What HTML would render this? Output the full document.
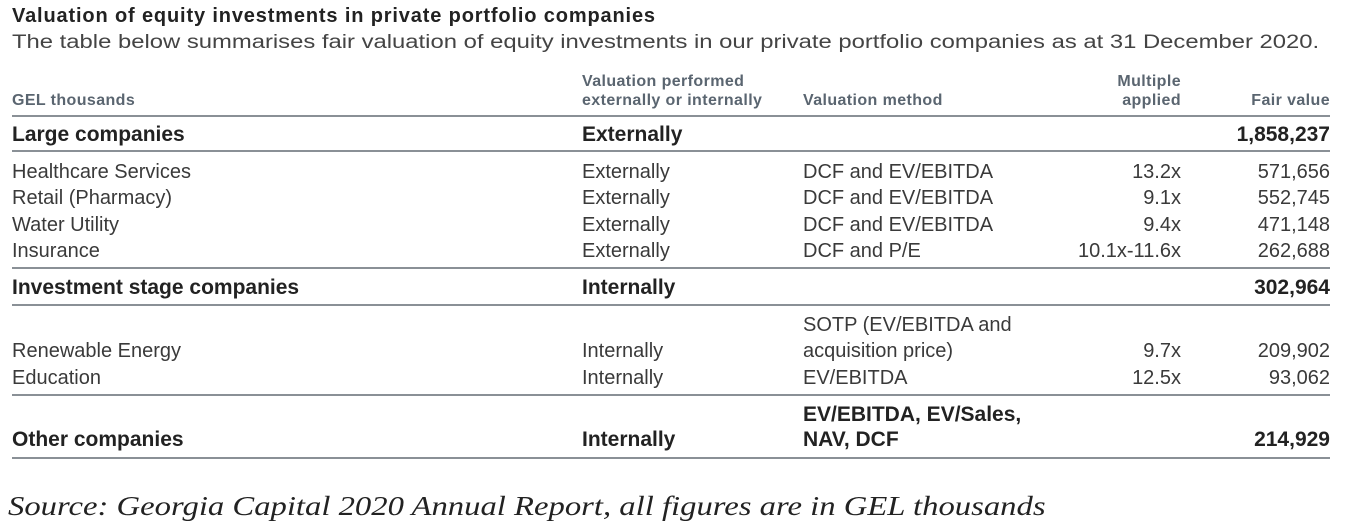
<!DOCTYPE html>
<html><head><meta charset="utf-8"><style>
body{margin:0;width:1347px;height:526px;background:#fff;position:relative;overflow:hidden;font-family:"Liberation Sans",Arial,sans-serif;}
.t{position:absolute;white-space:nowrap;line-height:22px;height:22px;}
.r{text-align:right;}
.n{font-size:20px;color:#3a3a3a;letter-spacing:0;}
.b{font-size:21px;font-weight:bold;color:#222;}
.h{font-size:16px;font-weight:bold;color:#5a6570;line-height:18px;height:18px;letter-spacing:0.4px;}
.ln{position:absolute;left:12px;width:1318px;height:2px;background:#8a9096;}
</style></head><body>
<div class="t" style="left:12px;top:5px;font-size:20px;letter-spacing:0.85px;font-weight:bold;color:#222;">Valuation of equity investments in private portfolio companies</div>
<div class="t" style="left:12px;top:32px;font-size:19px;color:#444;transform:scaleX(1.254);transform-origin:left center;">The table below summarises fair valuation of equity investments in our private portfolio companies as at 31 December 2020.</div>

<div class="t h" style="left:12px;top:92px;">GEL thousands</div>
<div class="t h" style="left:582px;top:73px;">Valuation performed</div>
<div class="t h" style="left:582px;top:92px;">externally or internally</div>
<div class="t h" style="left:803px;top:92px;">Valuation method</div>
<div class="t h r" style="left:1060px;width:121px;top:73px;">Multiple</div>
<div class="t h r" style="left:1060px;width:121px;top:92px;">applied</div>
<div class="t h r" style="left:1200px;width:130px;top:92px;">Fair value</div>
<div class="ln" style="top:115px;"></div>

<div class="t b" style="left:12px;top:124px;">Large companies</div>
<div class="t b" style="left:582px;top:124px;">Externally</div>
<div class="t b r" style="left:1160px;width:170px;top:124px;">1,858,237</div>
<div class="ln" style="top:150px;"></div>

<div class="t n" style="left:12px;top:161px;">Healthcare Services</div>
<div class="t n" style="left:582px;top:161px;">Externally</div>
<div class="t n" style="left:803px;top:161px;">DCF and EV/EBITDA</div>
<div class="t n r" style="left:1030px;width:151px;top:161px;">13.2x</div>
<div class="t n r" style="left:1180px;width:150px;top:161px;">571,656</div>

<div class="t n" style="left:12px;top:187px;">Retail (Pharmacy)</div>
<div class="t n" style="left:582px;top:187px;">Externally</div>
<div class="t n" style="left:803px;top:187px;">DCF and EV/EBITDA</div>
<div class="t n r" style="left:1030px;width:151px;top:187px;">9.1x</div>
<div class="t n r" style="left:1180px;width:150px;top:187px;">552,745</div>

<div class="t n" style="left:12px;top:214px;">Water Utility</div>
<div class="t n" style="left:582px;top:214px;">Externally</div>
<div class="t n" style="left:803px;top:214px;">DCF and EV/EBITDA</div>
<div class="t n r" style="left:1030px;width:151px;top:214px;">9.4x</div>
<div class="t n r" style="left:1180px;width:150px;top:214px;">471,148</div>

<div class="t n" style="left:12px;top:240px;">Insurance</div>
<div class="t n" style="left:582px;top:240px;">Externally</div>
<div class="t n" style="left:803px;top:240px;">DCF and P/E</div>
<div class="t n r" style="left:1000px;width:181px;top:240px;">10.1x-11.6x</div>
<div class="t n r" style="left:1180px;width:150px;top:240px;">262,688</div>
<div class="ln" style="top:267px;"></div>

<div class="t b" style="left:12px;top:277px;">Investment stage companies</div>
<div class="t b" style="left:582px;top:277px;">Internally</div>
<div class="t b r" style="left:1160px;width:170px;top:277px;">302,964</div>
<div class="ln" style="top:304px;"></div>

<div class="t n" style="left:803px;top:314px;">SOTP (EV/EBITDA and</div>
<div class="t n" style="left:12px;top:340px;">Renewable Energy</div>
<div class="t n" style="left:582px;top:340px;">Internally</div>
<div class="t n" style="left:803px;top:340px;">acquisition price)</div>
<div class="t n r" style="left:1030px;width:151px;top:340px;">9.7x</div>
<div class="t n r" style="left:1180px;width:150px;top:340px;">209,902</div>

<div class="t n" style="left:12px;top:367px;">Education</div>
<div class="t n" style="left:582px;top:367px;">Internally</div>
<div class="t n" style="left:803px;top:367px;">EV/EBITDA</div>
<div class="t n r" style="left:1030px;width:151px;top:367px;">12.5x</div>
<div class="t n r" style="left:1180px;width:150px;top:367px;">93,062</div>
<div class="ln" style="top:394px;"></div>

<div class="t b" style="left:803px;top:404px;">EV/EBITDA, EV/Sales,</div>
<div class="t b" style="left:12px;top:429px;">Other companies</div>
<div class="t b" style="left:582px;top:429px;">Internally</div>
<div class="t b" style="left:803px;top:429px;">NAV, DCF</div>
<div class="t b r" style="left:1160px;width:170px;top:429px;">214,929</div>
<div class="ln" style="top:457px;"></div>

<div class="t" style="left:8px;top:490px;line-height:32px;height:32px;font-family:'Liberation Serif',serif;font-style:italic;font-size:27px;color:#222;transform:scaleX(1.21);transform-origin:left center;">Source: Georgia Capital 2020 Annual Report, all figures are in GEL thousands</div>
</body></html>
